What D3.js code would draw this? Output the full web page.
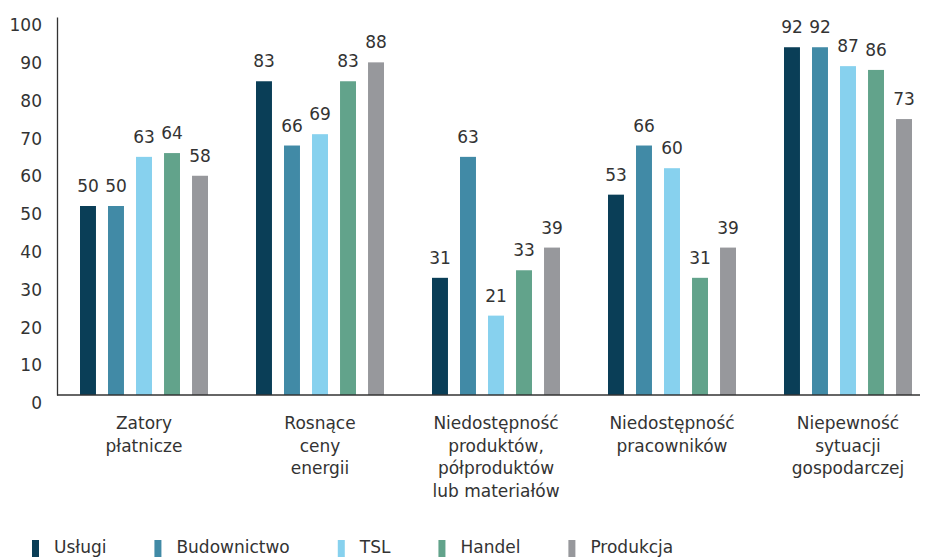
<!DOCTYPE html>
<html>
<head>
<meta charset="utf-8">
<script src="https://cdn.jsdelivr.net/npm/d3@7"></script>
<style>
  body { margin: 0; background: #fff; }
  svg { display: block; font-family: "DejaVu Sans", sans-serif; }
</style>
</head>
<body>
<div id="chart"></div>
<script>
// categories (each split into the lines shown under the axis)
const categories = ['Zatory płatnicze', 'Rosnące ceny energii', 'Niedostępność produktów', 'Niedostępność pracowników', 'Niepewność sytuacji'];
const categoryLines = [
  ['Zatory', 'płatnicze'],
  ['Rosnące', 'ceny', 'energii'],
  ['Niedostępność', 'produktów,', 'półproduktów', 'lub materiałów'],
  ['Niedostępność', 'pracowników'],
  ['Niepewność', 'sytuacji', 'gospodarczej']
];
const series = ['Usługi', 'Budownictwo', 'TSL', 'Handel', 'Produkcja'];
const colors = ['#0a3e57', '#418aa6', '#87d1ee', '#62a38b', '#97989c'];

const uslugi = [50, 83, 31, 53, 92];
const budownictwo = [50, 66, 63, 66, 92];
const tsl = [63, 69, 21, 60, 87];
const handel = [64, 83, 33, 31, 86];
const produkcja = [58, 88, 39, 39, 73];
const yTicks = [0, 10, 20, 30, 40, 50, 60, 70, 80, 90, 100];

const values = [uslugi, budownictwo, tsl, handel, produkcja];

const width = 925, height = 557;
const textColor = '#333';
const fontSize = '17px';

const svg = d3.select('#chart').append('svg')
  .attr('width', width)
  .attr('height', height);

const x0 = d3.scaleBand()
  .domain(categories)
  .range([56, 936])
  .padding(0);

const x1 = d3.scaleBand()
  .domain(series)
  .range([0, x0.bandwidth()])
  .paddingInner(0.43)
  .paddingOuter(0.857);

const y = d3.scaleLinear()
  .domain([0, 100])
  .range([395, 17]);

// y axis
const yAxis = svg.append('g')
  .attr('transform', 'translate(57,0)')
  .call(d3.axisLeft(y).tickValues(yTicks).tickSize(0).tickSizeOuter(0).tickPadding(15));
yAxis.select('.domain').attr('stroke', '#333').attr('stroke-width', 1.3);
yAxis.selectAll('text')
  .attr('fill', textColor)
  .attr('dy', '0.8em')
  .style('font-size', fontSize)
  .style('font-family', '"DejaVu Sans", sans-serif');

// bars
const groups = svg.selectAll('.group')
  .data(categories)
  .enter()
  .append('g')
  .attr('class', 'group')
  .attr('transform', d => 'translate(' + x0(d) + ',0)');

groups.each(function(cat, ci) {
  const g = d3.select(this);
  const rows = series.map((s, si) => ({ s: s, v: values[si][ci], c: colors[si] }));
  g.selectAll('rect')
    .data(rows)
    .enter()
    .append('rect')
    .attr('x', d => x1(d.s))
    .attr('y', d => y(d.v))
    .attr('width', x1.bandwidth())
    .attr('height', d => y(0) - y(d.v))
    .attr('fill', d => d.c);

  g.selectAll('.label')
    .data(rows)
    .enter()
    .append('text')
    .attr('class', 'label')
    .attr('x', d => x1(d.s) + x1.bandwidth() / 2)
    .attr('y', d => y(d.v) - 14)
    .attr('text-anchor', 'middle')
    .attr('fill', textColor)
    .style('font-size', fontSize)
    .text(d => d.v);
});

// x axis line
svg.append('line')
  .attr('x1', 57)
  .attr('x2', 920)
  .attr('y1', y(0))
  .attr('y2', y(0))
  .attr('stroke', '#333')
  .attr('stroke-width', 1.3);

// category labels
categories.forEach((cat, ci) => {
  const t = svg.append('text')
    .attr('text-anchor', 'middle')
    .attr('fill', textColor)
    .style('font-size', fontSize);
  categoryLines[ci].forEach((line, li) => {
    t.append('tspan')
      .attr('x', x0(cat) + x0.bandwidth() / 2)
      .attr('y', 429 + li * 22.7)
      .text(line);
  });
});

// legend
let lx = 32;
series.forEach((s, i) => {
  svg.append('rect')
    .attr('x', lx)
    .attr('y', 540)
    .attr('width', 7)
    .attr('height', 17)
    .attr('fill', colors[i]);
  const t = svg.append('text')
    .attr('x', lx + 22)
    .attr('y', 553)
    .attr('fill', textColor)
    .style('font-size', fontSize)
    .text(s);
  lx += 22 + t.node().getComputedTextLength() + 48;
});
</script>
</body>
</html>
